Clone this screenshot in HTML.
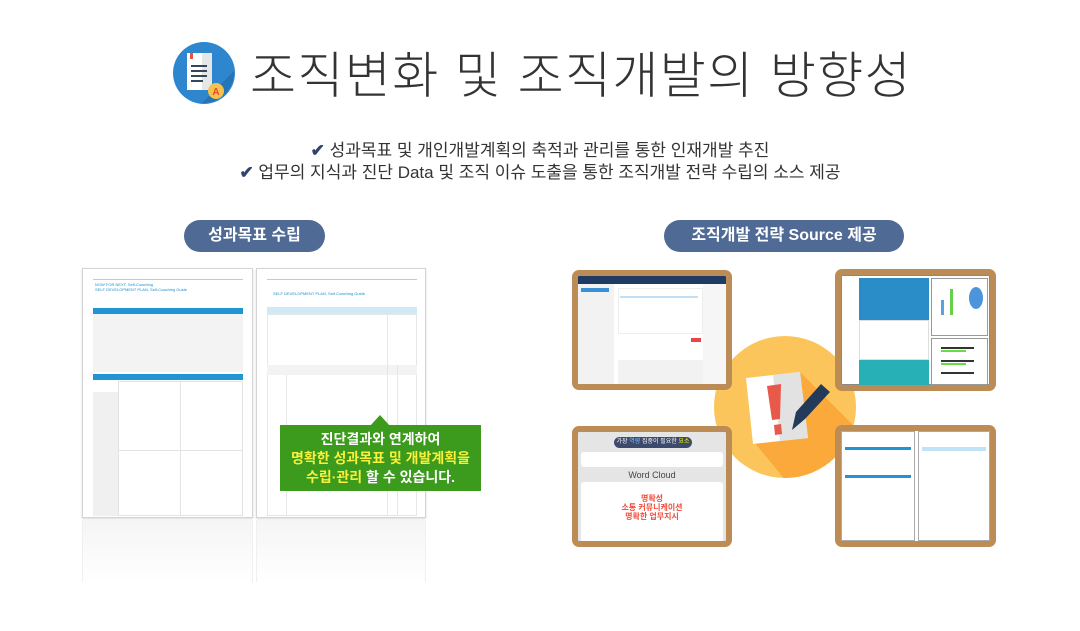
<!DOCTYPE html>
<html><head><meta charset="utf-8"><style>
*{margin:0;padding:0;box-sizing:border-box}
body{width:1080px;height:631px;background:#fff;position:relative;overflow:hidden;font-family:"Liberation Sans","Noto Sans CJK KR",sans-serif;color:#333}
.abs{position:absolute}
.title{left:250px;top:36px;font-size:50px;color:#333;letter-spacing:1.4px;white-space:nowrap;font-weight:300}
.bul{left:0;width:1080px;text-align:center;font-size:17px;color:#333;white-space:nowrap}
.bul b{color:#2f4470;font-weight:bold}
.pill{background:#506a96;color:#fff;border-radius:16px;height:32px;line-height:32px;text-align:center;font-size:16px;font-weight:bold}
.doc{background:#fff;border:1px solid #d4d4d4;box-shadow:0 1px 2px rgba(0,0,0,.15)}
.frame{border:6px solid #bb8c55;border-radius:7px;background:#f3f3f3;overflow:hidden}
.green{left:280px;top:425px;width:201px;height:66px;background:#3c9a1c;color:#fff;text-align:center;font-size:14px;font-weight:bold;line-height:19px;padding-top:5px}
.green span{color:#f8f03a}
</style></head><body>

<svg class="abs" style="left:172px;top:41px" width="64" height="64" viewBox="0 0 64 64">
<circle cx="32" cy="32" r="31" fill="#2e86cf"/>
<path d="M30 62 L62 30 A31 31 0 0 1 30 62Z" fill="#2673b5"/>
<rect x="15" y="12" width="25" height="37" fill="#fff"/>
<rect x="30" y="12" width="10" height="37" fill="#e6e6e6"/>
<rect x="18" y="12" width="3" height="6" fill="#e45544"/>
<rect x="19" y="24" width="16" height="2" fill="#33475f"/><rect x="19" y="29" width="16" height="2" fill="#33475f"/><rect x="19" y="34" width="16" height="2" fill="#33475f"/><rect x="19" y="39" width="12" height="2" fill="#33475f"/>
<circle cx="44" cy="50" r="8" fill="#f6c24a"/>
<text x="44" y="54" font-size="10" fill="#e34a3a" text-anchor="middle" font-weight="bold" font-family="Liberation Sans">A</text>
</svg>
<div class="abs title">조직변화 및 조직개발의 방향성</div>

<div class="abs bul" style="top:136px"><b>✔</b> 성과목표 및 개인개발계획의 축적과 관리를 통한 인재개발 추진</div>
<div class="abs bul" style="top:158px"><b>✔</b> 업무의 지식과 진단 Data 및 조직 이슈 도출을 통한 조직개발 전략 수립의 소스 제공</div>

<div class="abs pill" style="left:184px;top:220px;width:141px">성과목표 수립</div>
<div class="abs pill" style="left:664px;top:220px;width:240px">조직개발 전략 Source 제공</div>

<!-- docs -->
<div class="abs doc" style="left:82px;top:268px;width:171px;height:250px">
 <div class="abs" style="left:10px;top:10px;width:150px;height:1px;background:#bcd"></div>
 <div class="abs" style="left:12px;top:13px;font-size:4px;color:#1a8fcc">NOW FOR NEXT, Self-Coaching<br>SELF DEVELOPMENT PLAN, Self-Coaching Guide</div>
 <div class="abs" style="left:10px;top:39px;width:150px;height:6px;background:#1f95d3"></div>
 <div class="abs" style="left:10px;top:45px;width:150px;height:58px;background:#f3f3f3"></div>
 <div class="abs" style="left:10px;top:105px;width:150px;height:6px;background:#1f95d3"></div>
 <div class="abs" style="left:10px;top:123px;width:25px;height:124px;background:#f0f0f0"></div>
 <div class="abs" style="left:35px;top:112px;width:125px;height:135px;border:1px solid #e3e3e3"></div>
 <div class="abs" style="left:97px;top:112px;width:1px;height:135px;background:#e3e3e3"></div>
 <div class="abs" style="left:35px;top:181px;width:125px;height:1px;background:#e3e3e3"></div>
</div>
<div class="abs doc" style="left:256px;top:268px;width:170px;height:250px">
 <div class="abs" style="left:10px;top:10px;width:150px;height:1px;background:#bcd"></div>
 <div class="abs" style="left:16px;top:22px;font-size:4px;color:#1a8fcc">SELF DEVELOPMENT PLAN, Self-Coaching Guide</div>
 <div class="abs" style="left:10px;top:38px;width:150px;height:7px;background:#cfe9f6"></div>
 <div class="abs" style="left:10px;top:45px;width:150px;height:202px;border:1px solid #e6e6e6"></div>
 <div class="abs" style="left:10px;top:96px;width:150px;height:10px;background:#f3f3f3"></div>
 <div class="abs" style="left:29px;top:106px;width:1px;height:141px;background:#e6e6e6"></div>
 <div class="abs" style="left:130px;top:45px;width:1px;height:202px;background:#e6e6e6"></div>
 <div class="abs" style="left:140px;top:96px;width:1px;height:151px;background:#e6e6e6"></div>
</div>
<div class="abs" style="left:82px;top:520px;width:171px;height:62px;background:linear-gradient(#f5f5f5,#fff);border-left:1px solid #f0f0f0;border-right:1px solid #f0f0f0"></div>
<div class="abs" style="left:256px;top:520px;width:170px;height:62px;background:linear-gradient(#f5f5f5,#fff);border-left:1px solid #f0f0f0;border-right:1px solid #f0f0f0"></div>

<svg class="abs" style="left:370px;top:414px" width="20" height="12"><path d="M0 12 L10 1 L20 12Z" fill="#3c9a1c"/></svg>
<div class="abs green">진단결과와 연계하여<br><span>명확한 성과목표 및 개발계획을</span><br><span>수립·관리</span> 할 수 있습니다.</div>

<svg class="abs" style="left:700px;top:322px" width="170" height="170" viewBox="0 0 170 170">
<defs><clipPath id="c"><circle cx="85" cy="85" r="71"/></clipPath></defs>
<circle cx="85" cy="85" r="71" fill="#fcc55c"/>
<g clip-path="url(#c)"><path d="M54 120 L100 50 L180 130 L120 200 Z" fill="#faa93a"/></g>
<polygon points="46,56 100,50 108,116 53,122" fill="#fff"/>
<polygon points="73,53 100,50 108,116 80,119" fill="#e2e2e2"/>
<polygon points="67,64 81,62 80,97 72,98" fill="#e9594a"/>
<polygon points="74,103 81,102 82,112 75,113" fill="#e9594a"/>
<polygon points="92,108 96,90 121,62 130,70 105,97" fill="#233a5a"/>
</svg>

<div class="abs frame" style="left:572px;top:270px;width:160px;height:120px;background:#fff">
 <div style="height:8px;background:#1f3b63"></div>
 <div class="abs" style="left:0;top:8px;width:36px;height:100px;background:#f2f2f2"></div>
 <div class="abs" style="left:3px;top:12px;width:28px;height:4px;background:#3b8fd6"></div>
 <div class="abs" style="left:40px;top:12px;width:85px;height:46px;background:#fff;border:1px solid #eee"></div>
 <div class="abs" style="left:42px;top:20px;width:78px;height:2px;background:#bfe0f5"></div>
 <div class="abs" style="left:40px;top:84px;width:85px;height:24px;background:#f2f2f2"></div>
 <div class="abs" style="left:113px;top:62px;width:10px;height:4px;background:#e44"></div>
 <div class="abs" style="left:125px;top:8px;width:23px;height:100px;background:#f6f6f6"></div>
</div>
<div class="abs frame" style="left:835px;top:269px;width:161px;height:122px;background:#fff">
 <div class="abs" style="left:0;top:0;width:149px;height:110px;border:1px solid #888"></div>
 <div class="abs" style="left:18px;top:3px;width:70px;height:42px;background:#2a8dc7"></div>
 <div class="abs" style="left:18px;top:45px;width:70px;height:40px;background:#fff;border:1px solid #ddd"></div>
 <div class="abs" style="left:18px;top:85px;width:70px;height:25px;background:#27b0b5"></div>
 <div class="abs" style="left:90px;top:3px;width:57px;height:58px;border:1px solid #999"></div>
 <div class="abs" style="left:90px;top:63px;width:57px;height:47px;border:1px solid #999"></div>
 <div class="abs" style="left:128px;top:12px;width:14px;height:22px;border-radius:50%;background:#4c94dc"></div>
 <div class="abs" style="left:100px;top:25px;width:3px;height:15px;background:#5ba0e0"></div>
 <div class="abs" style="left:109px;top:14px;width:3px;height:26px;background:#66d04a"></div>
 <div class="abs" style="left:100px;top:72px;width:33px;height:2px;background:#333"></div>
 <div class="abs" style="left:100px;top:75px;width:25px;height:2px;background:#6d4"></div>
 <div class="abs" style="left:100px;top:85px;width:33px;height:2px;background:#333"></div>
 <div class="abs" style="left:100px;top:88px;width:25px;height:2px;background:#6d4"></div>
 <div class="abs" style="left:100px;top:97px;width:33px;height:2px;background:#333"></div>
</div>
<div class="abs frame" style="left:572px;top:426px;width:160px;height:121px;background:#e5e5e5">
 <div class="abs" style="left:36px;top:5px;width:78px;height:11px;border-radius:6px;background:#3d4a6e;color:#fff;font-size:6px;line-height:11px;text-align:center">가장 <span style="color:#6cf">역량</span> 집중이 필요한 <span style="color:#ff0">요소</span></div>
 <div class="abs" style="left:3px;top:20px;width:142px;height:15px;background:#fff;border-radius:3px"></div>
 <div class="abs" style="left:0;top:38px;width:148px;text-align:center;font-size:9px;color:#444">Word Cloud</div>
 <div class="abs" style="left:3px;top:50px;width:142px;height:60px;background:#fff;border-radius:3px;font-size:8px;color:#f04a3a;font-weight:bold;text-align:center;line-height:9px;padding-top:12px">명확성<br>소통 커뮤니케이션<br>명확한 업무지시</div>
</div>
<div class="abs frame" style="left:835px;top:425px;width:161px;height:122px;background:#fff">
 <div class="abs" style="left:0;top:0;width:74px;height:110px;border:1px solid #aaa"></div>
 <div class="abs" style="left:77px;top:0;width:72px;height:110px;border:1px solid #aaa"></div>
 <div class="abs" style="left:4px;top:16px;width:66px;height:3px;background:#1f95d3"></div>
 <div class="abs" style="left:4px;top:44px;width:66px;height:3px;background:#1f95d3"></div>
 <div class="abs" style="left:81px;top:16px;width:64px;height:4px;background:#bfe4f5"></div>
</div>
</body></html>
